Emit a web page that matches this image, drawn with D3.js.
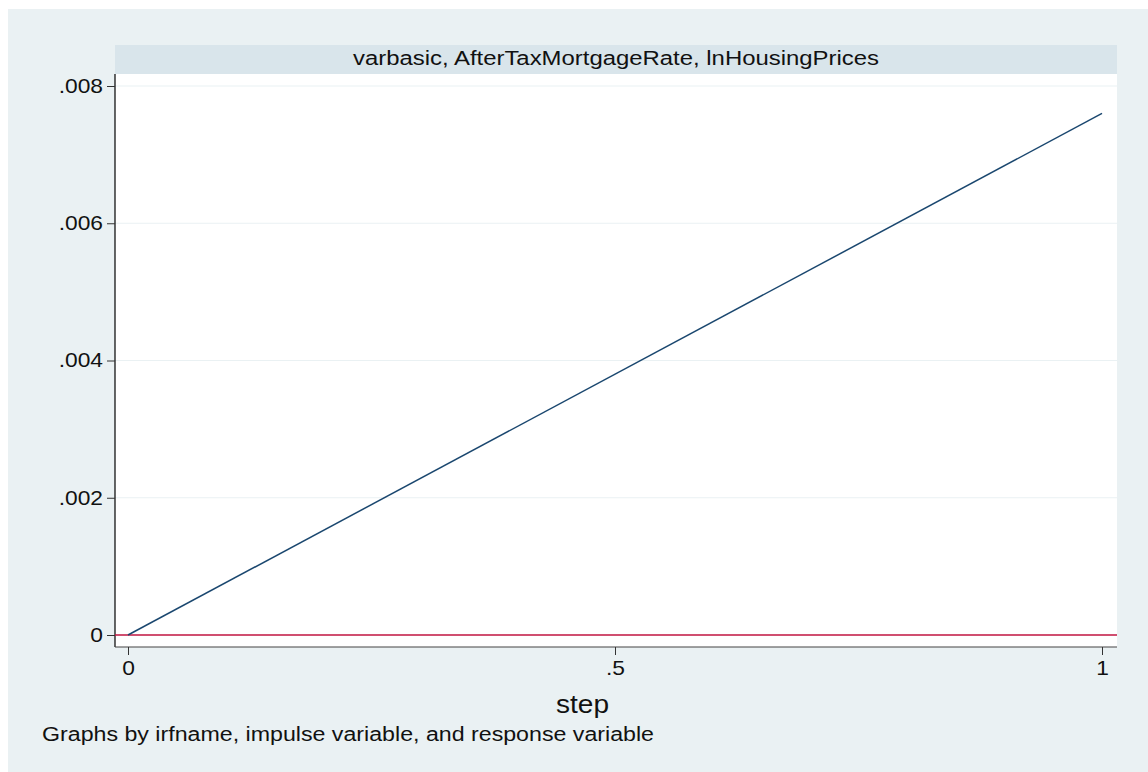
<!DOCTYPE html>
<html>
<head>
<meta charset="utf-8">
<script src="https://cdn.jsdelivr.net/npm/d3@7"></script>
<style>
  html, body { margin: 0; padding: 0; background: #ffffff; }
  svg { display: block; font-family: "Liberation Sans", Arial, Helvetica, sans-serif; }
</style>
</head>
<body>
<svg id="chart" width="1148" height="772"></svg>
<script>
// Impulse response: varbasic, AfterTaxMortgageRate -> lnHousingPrices
const steps = [0, 1];
const irf = [0, 0.0076];
const xTicks = [0, 0.5, 1];
const xTickLabels = ["0", ".5", "1"];
const yTicks = [0, 0.002, 0.004, 0.006, 0.008];
const yTickLabels = ["0", ".002", ".004", ".006", ".008"];
const panelTitle = "varbasic, AfterTaxMortgageRate, lnHousingPrices";
const xTitle = "step";
const note = "Graphs by irfname, impulse variable, and response variable";

const svg = d3.select("#chart");

// widen glyphs horizontally around each label's anchor point
function stretch(sel, sx) {
  sel.each(function () {
    const t = d3.select(this);
    const x0 = +t.attr("x") || 0;
    t.attr("x", 0).attr("transform", `translate(${x0},0) scale(${sx},1)`);
  });
}

// outer graph region
svg.append("rect").attr("x", 8).attr("y", 9).attr("width", 1140).attr("height", 763)
  .attr("fill", "#eaf1f3");

const plot = { left: 115, right: 1117, top: 74, bottom: 647 };

// panel strip
svg.append("rect").attr("x", plot.left).attr("y", 45)
  .attr("width", plot.right - plot.left).attr("height", 29)
  .attr("fill", "#d9e5eb");
svg.append("text").attr("x", 353).attr("y", 65)
  .attr("font-size", 20).attr("fill", "#111")
  .attr("textLength", 526).attr("lengthAdjust", "spacingAndGlyphs")
  .text(panelTitle);

// plot area
svg.append("rect").attr("x", plot.left).attr("y", plot.top)
  .attr("width", plot.right - plot.left).attr("height", plot.bottom - plot.top)
  .attr("fill", "#ffffff");

const x = d3.scaleLinear().domain([0, 1]).range([128, 1102]);
const y = d3.scaleLinear().domain([0, 0.008]).range([635, 86]);

// gridlines
svg.append("g").selectAll("line").data(yTicks.filter(d => d !== 0)).join("line")
  .attr("x1", plot.left).attr("x2", plot.right)
  .attr("y1", d => y(d)).attr("y2", d => y(d))
  .attr("stroke", "#eaf1f3").attr("stroke-width", 1.2);

// y axis
const yAxis = d3.axisLeft(y).tickValues(yTicks)
  .tickFormat((d, i) => yTickLabels[i]).tickSize(8).tickPadding(4);
const gy = svg.append("g").attr("transform", `translate(${plot.left},0)`).call(yAxis);
gy.select(".domain").attr("d", `M0,${plot.top}V${plot.bottom}`).attr("stroke", "#000").attr("stroke-width", 1.2);
gy.selectAll(".tick line").attr("stroke", "#333");
gy.selectAll(".tick text").attr("font-size", 20).attr("fill", "#111")
  .attr("font-family", "Liberation Sans, Arial, sans-serif");
stretch(gy.selectAll(".tick text"), 1.14);

// x axis
const xAxis = d3.axisBottom(x).tickValues(xTicks)
  .tickFormat((d, i) => xTickLabels[i]).tickSize(8).tickPadding(6);
const gx = svg.append("g").attr("transform", `translate(0,${plot.bottom})`).call(xAxis);
gx.select(".domain").attr("d", `M${plot.left},0H${plot.right}`).attr("stroke", "#444").attr("stroke-width", 1.2);
gx.selectAll(".tick line").attr("stroke", "#333");
gx.selectAll(".tick text").attr("font-size", 20).attr("fill", "#111")
  .attr("font-family", "Liberation Sans, Arial, sans-serif");
stretch(gx.selectAll(".tick text"), 1.14);

// zero reference line
svg.append("line").attr("x1", plot.left).attr("x2", plot.right)
  .attr("y1", y(0)).attr("y2", y(0))
  .attr("stroke", "#c01540").attr("stroke-width", 1.6);

// response line
const line = d3.line().x((d, i) => x(steps[i])).y(d => y(d));
svg.append("path").datum(irf).attr("d", line)
  .attr("fill", "none").attr("stroke", "#1a476f").attr("stroke-width", 1.5);

// axis title
svg.append("text").attr("x", 556).attr("y", 713)
  .attr("font-size", 25).attr("fill", "#111")
  .attr("textLength", 53).attr("lengthAdjust", "spacingAndGlyphs")
  .text(xTitle);

// note
svg.append("text").attr("x", 42).attr("y", 741)
  .attr("font-size", 20).attr("fill", "#111")
  .attr("textLength", 612).attr("lengthAdjust", "spacingAndGlyphs")
  .text(note);
</script>
</body>
</html>
